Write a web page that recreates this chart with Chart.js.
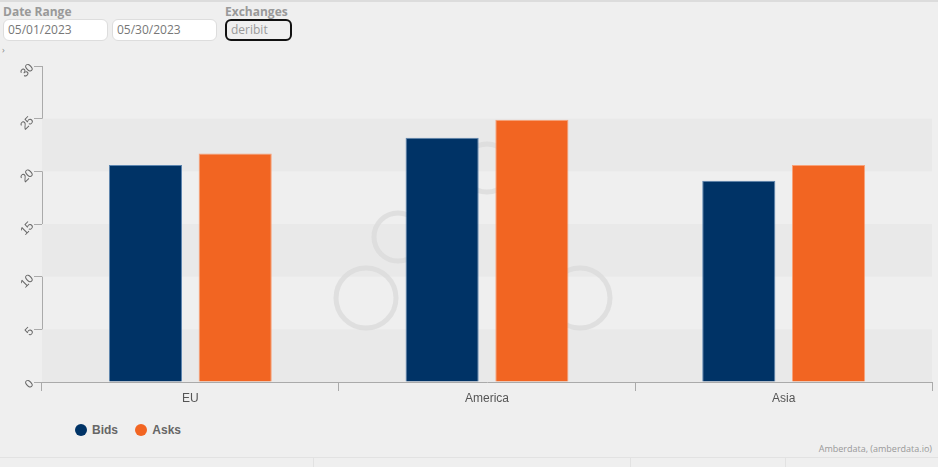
<!DOCTYPE html>
<html>
<head>
<meta charset="utf-8">
<script src="https://cdn.jsdelivr.net/npm/chart.js@4"></script>
<style>
  body { margin: 0; width: 938px; height: 467px; background: #efefef; font-family: "Segoe UI", "Open Sans", sans-serif; position: relative; overflow: hidden; }
  .topbar { position: absolute; left: 0; top: 0; width: 938px; height: 2px; background: #dcdcdc; }
  .lbl { position: absolute; top: 3px; font-size: 12px; font-weight: bold; color: #999; }
  .box { position: absolute; top: 19px; height: 20px; border: 1px solid #ddd; border-radius: 6px; background: #fff; font-size: 12px; color: #777; line-height: 20px; padding-left: 4px; box-sizing: content-box; }
  .box.sel { border: 2px solid #111; background: #efefef; color: #999; top: 19px; height: 18px; line-height: 18px; }
  .arrow { position: absolute; left: 2px; top: 43px; font-size: 9px; color: #888; }
  #wrap { position: absolute; left: 0; top: 56px; width: 938px; height: 350px; }
  .legend { position: absolute; top: 423px; left: 75px; font-size: 12px; font-weight: bold; color: #666; font-family: "Liberation Sans", Arial, sans-serif; }
  .legend span.dot { display: inline-block; width: 12px; height: 12px; border-radius: 50%; vertical-align: -2px; margin-right: 5px; }
  .legend span.item { margin-right: 14px; }
  .credit { position: absolute; right: 6px; top: 442px; font-size: 9px; color: #999; }
  .footer { position: absolute; left: 0; top: 457px; width: 938px; height: 10px; border-top: 1px solid #e2e2e2; }
  .vl { position: absolute; top: 458px; width: 1px; height: 9px; background: #e2e2e2; }
</style>
</head>
<body>
<div class="topbar"></div>
<div class="lbl" style="left:3px">Date Range</div>
<div class="box" style="left:3px; width:99px">05/01/2023</div>
<div class="box" style="left:112px; width:99px">05/30/2023</div>
<div class="lbl" style="left:225px">Exchanges</div>
<div class="box sel" style="left:225px; width:59px">deribit</div>
<div class="arrow">›</div>
<div id="wrap"><canvas id="chart"></canvas></div>
<div class="legend">
  <span class="item"><span class="dot" style="background:#003366"></span>Bids</span>
  <span class="item"><span class="dot" style="background:#f26522"></span>Asks</span>
</div>
<div class="credit">Amberdata, (amberdata.io)</div>
<div class="footer"></div>
<div class="vl" style="left:313px"></div>
<div class="vl" style="left:630px"></div>
<div class="vl" style="left:785px"></div>
<script>
const categories = ['EU', 'America', 'Asia']
const bids = [20.6, 23.2, 19.1]
const asks = [21.7, 24.9, 20.6]
const yMin = 0
const yMax = 30
const yStep = 5

// alternating bands + faint logo behind the bars
const backdrop = {
  id: 'backdrop',
  beforeDatasetsDraw(chart) {
    const { ctx, chartArea, scales } = chart
    const y = scales.y
    ctx.save()
    for (let v = yMin; v < yMax; v += yStep) {
      if ((v / yStep) % 2 === 0) {
        ctx.fillStyle = '#e9e9e9'
        const top = y.getPixelForValue(v + yStep)
        const bot = y.getPixelForValue(v)
        ctx.fillRect(chartArea.left, top, chartArea.right - chartArea.left, bot - top)
      }
    }
    // watermark loops
    ctx.strokeStyle = 'rgba(218,218,218,0.75)'
    ctx.lineWidth = 5
    const loops = [[366, 242, 30], [580, 242, 30], [398, 181, 24], [540, 181, 24], [487, 112, 24]]
    loops.forEach(([cx, cy, r]) => {
      ctx.beginPath()
      ctx.arc(cx, cy, r, 0, Math.PI * 2)
      ctx.stroke()
    })
    ctx.restore()
  }
}

new Chart(
  document.getElementById('chart'),
  {
    type: 'bar',
    data: {
      labels: categories,
      datasets: [
        {
          label: 'Bids',
          data: bids,
          backgroundColor: '#003366',
          borderColor: '#5d86b0',
          borderWidth: 1,
        },
        {
          label: 'Asks',
          data: asks,
          backgroundColor: '#f26522',
          borderColor: '#f8a27a',
          borderWidth: 1,
        },
      ]
    },
    options: {
      responsive: true,
      maintainAspectRatio: false,
      animation: false,
      categoryPercentage: 0.605,
      barPercentage: 0.815,
      layout: { padding: { top: 10, right: 6, left: 0, bottom: 0 } },
      plugins: {
        legend: { display: false },
        tooltip: { enabled: false },
      },
      scales: {
        x: {
          offset: true,
          grid: { display: true, drawOnChartArea: false, offset: true, color: '#aaa', tickLength: 9 },
          border: { color: '#aaa' },
          ticks: { color: '#555', font: { size: 12, family: 'Liberation Sans' }, padding: 0 },
          afterFit(scale) { scale.height = 24 }
        },
        y: {
          min: yMin,
          max: yMax,
          grid: { display: true, drawOnChartArea: false, color: '#aaa', tickLength: 8 },
          border: { color: '#aaa' },
          ticks: { stepSize: yStep, color: '#666', font: { size: 12, family: 'Liberation Sans' }, minRotation: 45, maxRotation: 45, padding: 2 },
          afterFit(scale) { scale.width = 42 }
        }
      }
    },
    plugins: [backdrop]
  }
)
</script>
</body>
</html>
